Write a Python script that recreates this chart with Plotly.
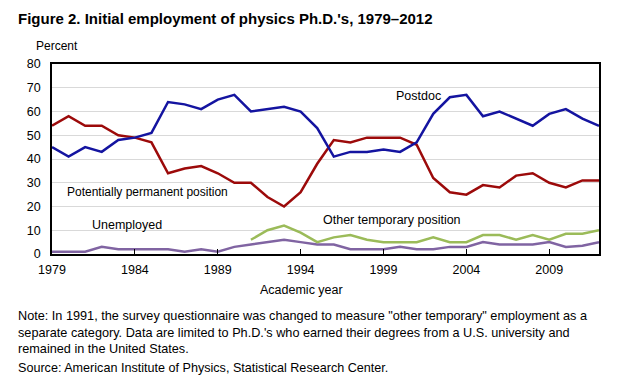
import plotly.graph_objects as go

years = list(range(1979, 2013))
postdoc = [45, 41, 45, 43, 48, 49, 51, 64, 63, 61, 65, 67, 60, 61, 62, 60, 53, 41, 43, 43, 44, 43, 47, 59, 66, 67, 58, 60, 57, 54, 59, 61, 57, 54]
permanent = [54, 58, 54, 54, 50, 49, 47, 34, 36, 37, 34, 30, 30, 24, 20, 26, 38, 48, 47, 49, 49, 49, 46, 32, 26, 25, 29, 28, 33, 34, 30, 28, 31, 31]
other_years = list(range(1991, 2013))
other_temp = [6, 10, 12, 9, 5, 7, 8, 6, 5, 5, 5, 7, 5, 5, 8, 8, 6, 8, 6, 8.5, 8.5, 10]
unemployed = [1, 1, 1, 3, 2, 2, 2, 2, 1, 2, 1, 3, 4, 5, 6, 5, 4, 4, 2, 2, 2, 3, 2, 2, 3, 3, 5, 4, 4, 4, 5, 3, 3.5, 5]
x_ticks = [1979, 1984, 1989, 1994, 1999, 2004, 2009]
y_ticks = [0, 10, 20, 30, 40, 50, 60, 70, 80]

FONT = "Liberation Sans, Arial, sans-serif"

fig = go.Figure()
fig.add_trace(go.Scatter(x=years, y=unemployed, mode="lines", line=dict(color="#8064a2", width=2.5)))
fig.add_trace(go.Scatter(x=other_years, y=other_temp, mode="lines", line=dict(color="#9bbb59", width=2.5)))
fig.add_trace(go.Scatter(x=years, y=permanent, mode="lines", line=dict(color="#9c0a0a", width=2.5)))
fig.add_trace(go.Scatter(x=years, y=postdoc, mode="lines", line=dict(color="#1414a0", width=2.5)))

fig.update_layout(
    width=628, height=386,
    margin=dict(l=52, r=29, t=64, b=132),
    plot_bgcolor="white", paper_bgcolor="white",
    showlegend=False,
    font=dict(family=FONT, size=12, color="black"),
    xaxis=dict(range=[1979, 2012], tickvals=x_ticks, ticks="inside", ticklen=5, tickcolor="black",
               showline=True, linecolor="black", linewidth=1.5, mirror=True, showgrid=False,
               zeroline=False, tickfont=dict(size=12.5), ticklabelstandoff=3),
    yaxis=dict(range=[0, 80], tickvals=y_ticks, showline=True, linecolor="black", linewidth=1.5,
               mirror=True, showgrid=True, gridcolor="#d9d9d9", gridwidth=1, zeroline=False,
               ticks="", tickfont=dict(size=12.5), ticklabelstandoff=7),
)

def ann(x, y, text, size=12.5, bold=False, xanchor="left"):
    fig.add_annotation(xref="paper", yref="paper", x=x, y=y, text=("<b>%s</b>" % text) if bold else text,
                       showarrow=False, xanchor=xanchor, yanchor="middle", xshift=-2,
                       font=dict(family=FONT, size=size, color="black"))

# paper coords helpers: plot spans x 52..599, y 64..254
def px(xp):
    return (xp - 52) / (599 - 52)
def py(yp):
    return (254 - yp) / (254 - 64)

ann(px(18), py(19), "Figure 2. Initial employment of physics Ph.D.'s, 1979–2012", size=15, bold=True)
ann(px(36), py(46), "Percent", size=12)
ann(px(303), py(290), "Academic year", size=12.5, xanchor="center")
ann(px(396), py(96), "Postdoc", size=12.5)
ann(px(67), py(192), "Potentially permanent position", size=12)
ann(px(92), py(225), "Unemployed", size=12.5)
ann(px(323), py(220), "Other temporary position", size=12.5)

fig.add_annotation(xref="paper", yref="paper", x=px(18), y=py(307), xanchor="left", yanchor="top", align="left",
                   showarrow=False, xshift=-2,
                   text="Note: In 1991, the survey questionnaire was changed to measure \"other temporary\" employment as a<br>"
                        "separate category. Data are limited to Ph.D.'s who earned their degrees from a U.S. university and<br>"
                        "remained in the United States.",
                   font=dict(family=FONT, size=12.7, color="black"))
ann(px(18), py(368), "Source: American Institute of Physics, Statistical Research Center.", size=12.6)

fig.write_html("out.html", config={"displayModeBar": False},
               post_script="document.body.style.margin='0';document.body.style.padding='0';")
